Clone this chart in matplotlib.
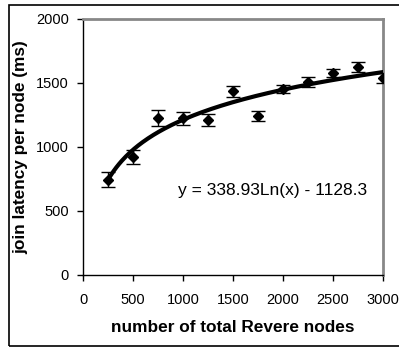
import numpy as np
import matplotlib
matplotlib.use("Agg")
import matplotlib.pyplot as plt
from matplotlib.patches import Rectangle

plt.rcParams["font.family"] = ["Liberation Sans", "DejaVu Sans"]

# measured join latency per node
nodes = [250, 500, 750, 1000, 1250, 1500, 1750, 2000, 2250, 2500, 2750, 3000]
latency = [745, 922, 1227, 1225, 1211, 1437, 1242, 1453, 1508, 1578, 1625, 1539]
err = [60, 55, 60, 50, 47, 43, 40, 35, 40, 35, 40, 40]

# logarithmic trend line shown on the chart
fit_a = 338.93
fit_b = -1128.3
fit_label = "y = 338.93Ln(x) - 1128.3"

W, H = 399, 347
fig = plt.figure(figsize=(W / 100, H / 100), dpi=100)

# outer border round the whole chart
fig.patches.append(Rectangle((8.5 / W, 1 - 345.5 / H), 1.2, (345.5 - 4.5) / H,
                             transform=fig.transFigure, fill=False,
                             edgecolor="black", linewidth=1.2))

ax = fig.add_axes([83 / W, 1 - 275 / H, 300 / W, 256 / H])

ax.errorbar(nodes, latency, yerr=err, fmt="D", color="black", markersize=5.5,
            ecolor="black", elinewidth=1, capsize=5, capthick=1, zorder=3)

xs = np.linspace(nodes[0], nodes[-1], 200)
ax.plot(xs, fit_a * np.log(xs) + fit_b, color="black", linewidth=3, zorder=4)

ax.text(1895, 664, fit_label, fontsize=12.5, ha="center", va="center")

ax.set_xlim(0, 3000)
ax.set_ylim(0, 2000)
ax.set_xticks(range(0, 3001, 500))
ax.set_yticks(range(0, 2001, 500))
ax.tick_params(direction="out", length=4, width=1, labelsize=10.5)
ax.tick_params(axis="x", pad=9)
ax.tick_params(axis="y", pad=6)

ax.spines["top"].set_color("#888888")
ax.spines["right"].set_color("#888888")
ax.spines["top"].set_linewidth(2)
ax.spines["right"].set_linewidth(2)
ax.spines["left"].set_linewidth(1)
ax.spines["bottom"].set_linewidth(1)

ax.set_xlabel("number of total Revere nodes", fontsize=12.4, fontweight="bold", labelpad=9)
ax.set_ylabel("join latency per node (ms)", fontsize=12.4, fontweight="bold", labelpad=6)

fig.savefig("out.png", dpi=100)
